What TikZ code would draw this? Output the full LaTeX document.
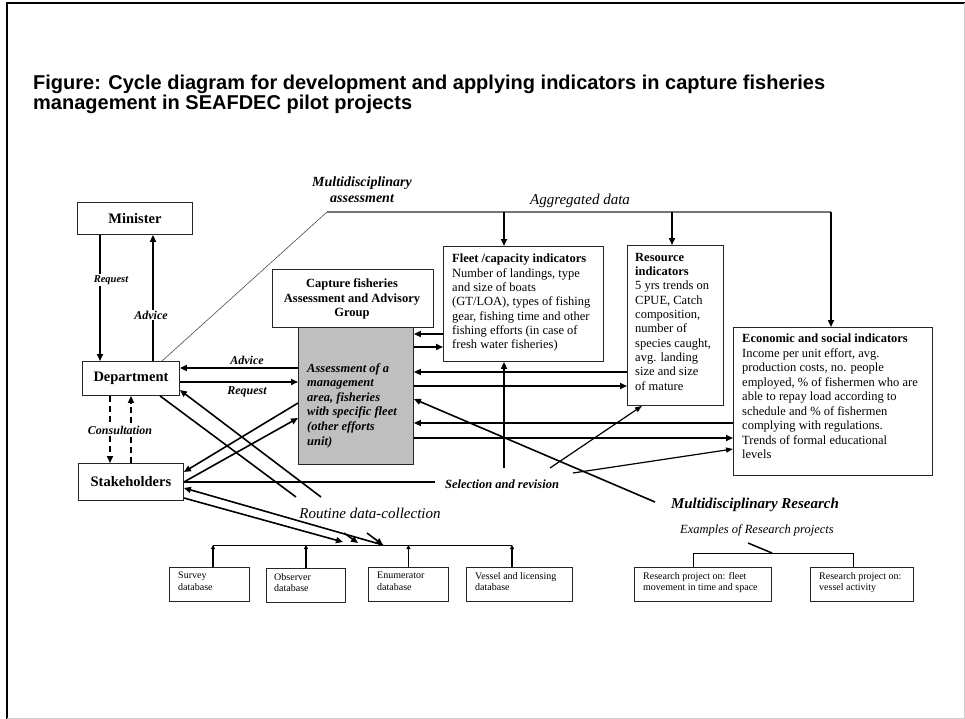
\documentclass[tikz,border=0pt]{standalone}
\usepackage{fontspec}
\setmainfont{Liberation Serif}
\newfontfamily\arialfont{Liberation Sans}
\usetikzlibrary{arrows.meta}
\tikzset{
  box/.style={draw=black!85, line width=0.9pt, inner sep=0pt, anchor=north west},
  txt/.style={inner sep=0pt, anchor=north west, align=left},
  lbl/.style={inner sep=1pt, font=\fontsize{12}{14}\selectfont\bfseries\itshape},
  arr/.style={line width=1.6pt, -{Triangle[length=7pt,width=6pt]}},
  arrb/.style={line width=1.6pt, {Triangle[length=7pt,width=6pt]}-},
  tarr/.style={line width=1.2pt, -{Triangle[length=7pt,width=5pt]}},
  sarr/.style={line width=1.2pt, -{Triangle[length=4pt,width=4pt]}},
  ln/.style={line width=1.6pt},
}
\begin{document}
\begin{tikzpicture}[x=1pt,y=-1pt]
\useasboundingbox (0,0) rectangle (965,719);
% frame
\draw[line width=2pt] (7,719) -- (7,3) -- (965,3);
\draw[black!20, line width=1pt] (7,718) -- (964,718) -- (964,3);
% title
\node[inner sep=0pt, anchor=base west, font=\arialfont\bfseries\fontsize{20}{23}\selectfont] (t1) at (33,90)
  {Figure: Cycle diagram for development and applying indicators in capture fisheries};
\node[inner sep=0pt, anchor=base west, font=\arialfont\bfseries\fontsize{20}{23}\selectfont] (t2) at (33,110)
  {management in SEAFDEC pilot projects};

% boxes
\node[box, minimum width=115pt, minimum height=32pt] (minister) at (77,202) {};
\node[font=\fontsize{14.5}{16}\selectfont\bfseries] (tmin) at (minister.center) {Minister};
\node[box, minimum width=97pt, minimum height=34pt] (department) at (82,361) {};
\node[font=\fontsize{14.5}{16}\selectfont\bfseries] (tdep) at (department.center) {Department};
\node[box, minimum width=105pt, minimum height=37pt] (stake) at (78,463) {};
\node[font=\fontsize{14.5}{16}\selectfont\bfseries] (tsta) at (stake.center) {Stakeholders};

\node[box, minimum width=161pt, minimum height=58pt] (capture) at (272,269) {};
\node[inner sep=0pt, align=center, font=\fontsize{12.5}{14.5}\selectfont\bfseries] (tcap) at (352,299)
  {Capture fisheries\\Assessment and Advisory\\Group};
\node[box, fill=black!25, minimum width=115pt, minimum height=137pt] (gray) at (298,327) {};
\node[txt, font=\fontsize{12.5}{14.6}\selectfont\bfseries\itshape] (tgray) at (307,363)
  {Assessment of a\\management\\area, fisheries\\with specific fleet\\(other efforts\\unit)};

\node[box, minimum width=160pt, minimum height=115pt] (fleet) at (443,246) {};
\node[txt, font=\fontsize{12.5}{14.3}\selectfont] (tfleet) at (452,254)
  {\textbf{Fleet /capacity indicators}\\Number of landings, type\\and size of boats\\(GT/LOA), types of fishing\\gear, fishing time and other\\fishing efforts (in case of\\fresh water fisheries)};
\node[box, minimum width=96pt, minimum height=160pt] (resource) at (627,245) {};
\node[txt, font=\fontsize{12.5}{14.3}\selectfont] (tres) at (635,253)
  {\textbf{Resource}\\\textbf{indicators}\\5 yrs trends on\\CPUE, Catch\\composition,\\number of\\species caught,\\avg. landing\\size and size\\of mature};
\node[box, minimum width=199pt, minimum height=148pt] (econ) at (733,327) {};
\node[txt, font=\fontsize{12.5}{14.5}\selectfont] (tecon) at (742,334)
  {\textbf{Economic and social indicators}\\Income per unit effort, avg.\\production costs, no. people\\employed, \% of fishermen who are\\able to repay load according to\\schedule and \% of fishermen\\complying with regulations.\\Trends of formal educational\\levels};

% databases
\node[box, minimum width=80pt, minimum height=34pt] (survey) at (169,567) {};
\node[txt, font=\fontsize{10}{11.5}\selectfont] (tsur) at (178,572) {Survey\\database};
\node[box, minimum width=79pt, minimum height=34pt] (observer) at (266,568) {};
\node[txt, font=\fontsize{10}{11.5}\selectfont] (tobs) at (274,573) {Observer\\database};
\node[box, minimum width=80pt, minimum height=34pt] (enum) at (368,567) {};
\node[txt, font=\fontsize{10}{11.5}\selectfont] (tenu) at (377,572) {Enumerator\\database};
\node[box, minimum width=106pt, minimum height=34pt] (vessel) at (466,567) {};
\node[txt, font=\fontsize{10}{11.5}\selectfont] (tves) at (475,572) {Vessel and licensing\\database};
\node[box, minimum width=137pt, minimum height=34pt] (rp1) at (634,567) {};
\node[txt, font=\fontsize{10}{11.5}\selectfont] (trp1) at (643,572) {Research project on: fleet\\movement in time and space};
\node[box, minimum width=103pt, minimum height=34pt] (rp2) at (810,567) {};
\node[txt, font=\fontsize{10}{11.5}\selectfont] (trp2) at (819,572) {Research project on:\\vessel activity};

% Minister <-> Department
\draw[arr] (minister.south -| 100,0) -- (department.north -| 100,0);
\node[lbl, fill=white, font=\fontsize{10.5}{12}\selectfont\bfseries\itshape] (lreq1) at (111,280) {Request};
\draw[arr] (department.north -| 153,0) -- (minister.south -| 153,0);
\node[lbl, fill=white] (ladv1) at (151,315) {Advice};
% consultation
\draw[arr, dashed, dash pattern=on 6pt off 4pt] (department.south -| 110,0) -- (stake.north -| 110,0);
\draw[arr, dashed, dash pattern=on 6pt off 4pt] (stake.north -| 131,0) -- (department.south -| 131,0);
\node[lbl, fill=white] (lcons) at (120,430) {Consultation};

% multidisciplinary assessment / aggregated data
\coordinate (ma) at (327,212);
\coordinate (agR) at (831,212);
\draw[black!70, line width=0.6pt] (department.north -| 162,0) -- (ma);
\draw[black!55, line width=1.4pt] (ma) -- (agR);
\draw[arr] (agR) -- (agR |- econ.north);
\node[lbl, align=center, font=\fontsize{14}{16}\selectfont\bfseries\itshape] (lma) at (362,190) {Multidisciplinary\\assessment};
\node[lbl, font=\fontsize{15}{17}\selectfont\itshape] (lagg) at (580,201) {Aggregated data};
\coordinate (ag1) at (504,212);
\coordinate (ag2) at (672,212);
\draw[arr] (ag1) -- (ag1 |- fleet.north);
\draw[arr] (ag2) -- (ag2 |- resource.north);

% department <-> assessment
\draw[arr] (gray.west |- 0,368) -- (department.east |- 0,368);
\node[lbl] (ladv2) at (247,360) {Advice};
\draw[arr] (department.east |- 0,382) -- (gray.west |- 0,382);
\node[lbl] (lreq2) at (247,392) {Request};
% stakeholders <-> assessment
\draw[arr] (gray.west |- 0,403) -- (stake.east |- 0,472);
\draw[arr] (stake.east |- 0,482) -- (gray.west |- 0,418);

% assessment <-> indicators
\draw[arr] (fleet.west |- 0,334) -- (gray.east |- 0,334);
\draw[arr] (gray.east |- 0,347) -- (fleet.west |- 0,347);
\draw[arr] (resource.west |- 0,372) -- (gray.east |- 0,372);
\draw[arr] (gray.east |- 0,386) -- (resource.west |- 0,386);
\draw[arr] (econ.west |- 0,423) -- (gray.east |- 0,423);
\draw[arr] (gray.east |- 0,438) -- (econ.west |- 0,438);

% selection and revision
\coordinate (selL) at (435,482);
\draw[line width=1.3pt] (stake.east |- selL) -- (selL);
\node[lbl, font=\fontsize{12.5}{14}\selectfont\bfseries\itshape] (lsel) at (502,484) {Selection and revision};
\coordinate (s1) at (504,468);
\coordinate (s2) at (550,468);
\coordinate (s3) at (573,473);
\draw[arr] (s1) -- (s1 |- fleet.south);
\draw[tarr] (s2) -- (resource.south -| 642,0);
\draw[tarr] (s3) -- (econ.west |- 0,449);

% multidisciplinary research
\coordinate (mr) at (655,502);
\draw[arr] (mr) -- (gray.east |- 0,399);
\node[lbl, font=\fontsize{15}{17}\selectfont\bfseries\itshape] (lmr) at (755,505) {Multidisciplinary Research};
\node[lbl, font=\fontsize{12.5}{14}\selectfont\itshape] (lex) at (757,530) {Examples of Research projects};
\coordinate (tk1) at (748,543);
\coordinate (bk1) at (693,553);
\coordinate (bk2) at (853,553);
\coordinate (tk2) at (772,553);
\draw[line width=1.5pt] (tk1) -- (tk2);
\draw[line width=0.9pt] (rp1.north -| bk1) -- (bk1) -- (bk2) -- (rp2.north -| bk2);

% routine data-collection
\coordinate (rb1) at (213,545);
\coordinate (rb2) at (512,545);
\draw[line width=1pt] (rb1) -- (rb2);
\draw[sarr] (survey.north -| rb1) -- (rb1);
\draw[sarr] (observer.north) -- (observer.north |- rb1);
\draw[sarr] (enum.north) -- (enum.north |- rb1);
\draw[sarr] (vessel.north -| rb2) -- (rb2);
\node[lbl, font=\fontsize{15}{17}\selectfont\itshape] (lrdc) at (370,513) {Routine data-collection};
% lines from department / stakeholders to routine data
\coordinate (d1a) at (296,497);
\coordinate (d1b) at (344,533);
\coordinate (d1c) at (358,543);
\draw[ln] (department.south -| 160,0) -- (d1a);
\draw[arr] (d1b) -- (d1c);
\coordinate (d2a) at (321,497);
\coordinate (d2b) at (367,533);
\coordinate (d2c) at (383,545);
\draw[arrb] (department.east |- 0,390) -- (d2a);
\draw[arr] (d2b) -- (d2c);
\draw[arrb] (stake.east |- 0,488) -- (d2c);
\draw[arr] (stake.east |- 0,498) -- (343,542);
\end{tikzpicture}
\end{document}
